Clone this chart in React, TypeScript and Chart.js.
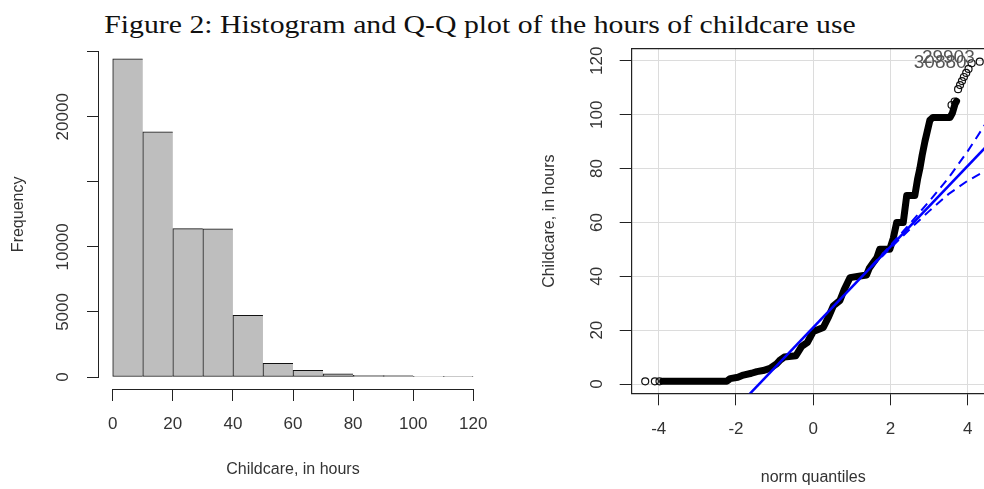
import React, { useEffect, useLayoutEffect, useRef, useState } from 'react';
import { Chart, registerables } from 'chart.js';
Chart.register(...registerables);

// ---------- Histogram data ----------
const HIST_BREAKS = [0, 10, 20, 30, 40, 50, 60, 70, 80, 90, 100, 110, 120];
const HIST_FREQ = [24460, 18850, 11400, 11380, 4740, 1050, 510, 250, 125, 110, 8, 3];
const HIST_X_TICKS = [0, 20, 40, 60, 80, 100, 120];
const HIST_Y_TICKS = [0, 5000, 10000, 15000, 20000, 25000];
const HIST_Y_LABELED = [0, 5000, 10000, 20000];

// ---------- Q-Q plot data ----------
const QQ_X_TICKS = [-4, -2, 0, 2, 4];
const QQ_Y_TICKS = [0, 20, 40, 60, 80, 100, 120];
// dense part of the sample quantiles (overlapping circles form a solid band)
const QQ_BAND_X = [-3.9, -2.24, -2.15, -1.95, -1.81, -1.6, -1.46, -1.3, -1.12, -0.95, -0.85, -0.75, -0.45, -0.3, -0.15, 0.0, 0.26, 0.4, 0.52, 0.69, 0.8, 0.95, 1.38, 1.45, 1.55, 1.65, 1.72, 1.98, 2.07, 2.16, 2.33, 2.42, 2.63, 2.7, 2.76, 2.82, 2.89, 3.02, 3.1, 3.54, 3.6, 3.67, 3.71];
const QQ_BAND_Y = [1, 1, 2, 2.5, 3.3, 4, 4.6, 5, 5.8, 7.5, 9, 10, 10.5, 14, 15.5, 19.5, 21, 25, 29, 31, 35, 39.5, 40.5, 43, 45, 47, 50, 50, 54, 60, 60, 70, 70, 76, 80, 85, 90, 98, 99, 99, 100.5, 104, 105];
// sparse individual observations at both tails (open circles)
const QQ_PT_X = [-4.35, -4.1, -3.98, 3.58, 3.66, 3.75, 3.8, 3.85, 3.9, 3.96, 4.02, 4.1, 4.31];
const QQ_PT_Y = [1, 1, 1, 103.6, 104.9, 109.5, 111, 112.5, 114, 115.5, 117, 119.1, 119.7];
// reference line and its dashed confidence envelope
const QQLINE_X = [-2, 5];
const QQLINE_Y = [-9, 96];
const ENV_X = [1.5, 2.0, 2.5, 3.0, 3.5, 4.0, 4.5, 5.0];
const ENV_UPPER = [43.7, 51.5, 59.5, 67.8, 76.5, 86.5, 97.5, 108];
const ENV_LOWER = [43.3, 50.5, 57.5, 64.2, 70.5, 75.5, 79.5, 84];
// identified observations
const ID_TEXT = ['30880', '29903'];
const ID_X = [4.1, 4.31];
const ID_Y = [119.2, 121.0];

const FONT = '"Liberation Sans", Arial, sans-serif';
const AXIS = '#222';
const TXT = '#333';

const zeroPad = (s: any) => {
  s.paddingTop = 0; s.paddingBottom = 0; s.paddingLeft = 0; s.paddingRight = 0;
};
const setTicks = (vals: number[]) => (s: any) => { s.ticks = vals.map((v) => ({ value: v })); };

export default function App() {
  const refA = useRef<HTMLCanvasElement>(null);
  const refB = useRef<HTMLCanvasElement>(null);
  const refC = useRef<HTMLCanvasElement>(null);
  const titleRef = useRef<HTMLSpanElement>(null);
  const [sx, setSx] = useState(1);

  useLayoutEffect(() => {
    if (titleRef.current) {
      const w = titleRef.current.offsetWidth;
      if (w > 0) setSx(752 / w);
    }
  }, []);

  useEffect(() => {
    Chart.defaults.font.family = FONT;
    const common = {
      responsive: false,
      animation: false as const,
      events: [] as any[],
      plugins: { legend: { display: false }, tooltip: { enabled: false } },
    };

    // Histogram bars + y axis
    const chartA = new Chart(refA.current!, {
      type: 'bar',
      data: {
        datasets: [
          {
            data: HIST_FREQ.map((f, i) => ({ x: (HIST_BREAKS[i] + HIST_BREAKS[i + 1]) / 2, y: f })),
            backgroundColor: '#bebebe',
            borderColor: '#111',
            borderWidth: (ctx: any) => ({ left: 1, top: 1, bottom: 1, right: ctx.dataIndex === HIST_FREQ.length - 1 ? 1 : 0 }),
            borderSkipped: false,
            barPercentage: 1,
            categoryPercentage: 1,
          } as any,
        ],
      },
      options: {
        ...common,
        layout: { padding: { left: 0, right: 510.7, top: 51.7, bottom: 112 } },
        scales: {
          x: { type: 'linear', display: false, offset: false, grid: { offset: false }, min: -4.9, max: 120, afterBuildTicks: setTicks(HIST_BREAKS) },
          y: {
            type: 'linear', position: 'left', min: 0, max: 25000,
            afterBuildTicks: setTicks(HIST_Y_TICKS),
            afterFit: (s: any) => { s.width = 98; zeroPad(s); },
            ticks: {
              callback: (v: any) => (HIST_Y_LABELED.includes(Number(v)) ? String(v) : ''),
              minRotation: 90, maxRotation: 90, crossAlign: 'center', padding: 0,
              font: { size: 17 }, color: TXT,
            },
            grid: { drawOnChartArea: false, tickLength: 11, tickColor: AXIS, tickWidth: 1 },
            border: { display: true, color: AXIS, width: 1 },
            title: { display: true, text: 'Frequency', font: { size: 16 }, color: TXT, padding: { top: 9.4, bottom: 0 } },
          },
        },
      } as any,
    });

    // Histogram x axis (offset below the bars)
    const chartB = new Chart(refB.current!, {
      type: 'scatter',
      data: { datasets: [] },
      options: {
        ...common,
        layout: { padding: { left: 112.7, right: 510.7, top: 300, bottom: 0 } },
        scales: {
          x: {
            type: 'linear', position: 'bottom', min: 0, max: 120,
            afterBuildTicks: setTicks(HIST_X_TICKS),
            afterFit: (s: any) => { s.height = 100; zeroPad(s); },
            ticks: { font: { size: 17 }, color: TXT, padding: 13, maxRotation: 0 },
            grid: { drawOnChartArea: false, tickLength: 12, tickColor: AXIS, tickWidth: 1 },
            border: { display: true, color: AXIS, width: 1 },
            title: { display: true, text: 'Childcare, in hours', font: { size: 16 }, color: TXT, padding: { top: 0, bottom: 9.4 } },
          },
          y: { type: 'linear', display: false, min: 0, max: 1 },
        },
      } as any,
    });

    const idLabelPlugin = {
      id: 'idLabels',
      afterDatasetsDraw(chart: any) {
        const { ctx, scales } = chart;
        ctx.save();
        ctx.font = `19px ${FONT}`;
        ctx.fillStyle = '#555';
        ctx.textAlign = 'right';
        ctx.textBaseline = 'middle';
        ID_TEXT.forEach((t, i) => {
          ctx.fillText(t, scales.x.getPixelForValue(ID_X[i]) - 5, scales.y.getPixelForValue(ID_Y[i]));
        });
        ctx.restore();
      },
    };

    // Q-Q plot
    const chartC = new Chart(refC.current!, {
      type: 'scatter',
      data: {
        datasets: [
          {
            data: QQLINE_X.map((x, i) => ({ x, y: QQLINE_Y[i] })),
            showLine: true, borderColor: '#0000ff', borderWidth: 2.5, pointRadius: 0, order: 0,
          },
          {
            data: ENV_X.map((x, i) => ({ x, y: ENV_UPPER[i] })),
            showLine: true, borderColor: '#0000ff', borderWidth: 2, borderDash: [9, 6], pointRadius: 0, order: 0,
          },
          {
            data: ENV_X.map((x, i) => ({ x, y: ENV_LOWER[i] })),
            showLine: true, borderColor: '#0000ff', borderWidth: 2, borderDash: [9, 6], pointRadius: 0, order: 0,
          },
          {
            data: QQ_BAND_X.map((x, i) => ({ x, y: QQ_BAND_Y[i] })),
            showLine: true, borderColor: '#000', borderWidth: 7, pointRadius: 0,
            borderJoinStyle: 'round', borderCapStyle: 'round', order: 1,
          },
          {
            data: QQ_PT_X.map((x, i) => ({ x, y: QQ_PT_Y[i] })),
            showLine: false, pointRadius: 3.5, pointBorderWidth: 1.2, pointBorderColor: '#111',
            pointBackgroundColor: 'rgba(255,255,255,0)', order: 1,
          },
        ] as any,
      },
      options: {
        ...common,
        layout: { padding: { left: 0, right: 5, top: 49, bottom: 0 } },
        scales: {
          x: {
            type: 'linear', position: 'bottom', min: -4.7, max: 4.7,
            afterBuildTicks: setTicks(QQ_X_TICKS),
            afterFit: (s: any) => { s.height = 95.7; zeroPad(s); },
            ticks: { font: { size: 17 }, color: TXT, padding: 14, maxRotation: 0 },
            grid: { drawOnChartArea: true, color: '#dcdcdc', lineWidth: 1, tickLength: 12, tickColor: AXIS, tickWidth: 1 },
            border: { display: true, color: AXIS, width: 1.2 },
            title: { display: true, text: 'norm quantiles', font: { size: 16 }, color: TXT, padding: { top: 0, bottom: 1.4 } },
          },
          x2: {
            type: 'linear', position: 'top', min: -4.7, max: 4.7,
            afterFit: (s: any) => { s.height = 0; zeroPad(s); },
            ticks: { display: false },
            grid: { display: false },
            border: { display: true, color: AXIS, width: 1.2 },
          },
          y: {
            type: 'linear', position: 'left', min: -3.45, max: 124.4,
            afterBuildTicks: setTicks(QQ_Y_TICKS),
            afterFit: (s: any) => { s.width = 631.7; zeroPad(s); },
            ticks: { minRotation: 90, maxRotation: 90, crossAlign: 'center', padding: 8.5, font: { size: 17 }, color: TXT },
            grid: { drawOnChartArea: true, color: '#dcdcdc', lineWidth: 1, tickLength: 12, tickColor: AXIS, tickWidth: 1 },
            border: { display: true, color: AXIS, width: 1.2 },
            title: { display: true, text: 'Childcare, in hours', font: { size: 16 }, color: TXT, padding: { top: 540.4, bottom: 0 } },
          },
        },
      } as any,
      plugins: [idLabelPlugin],
    });

    return () => {
      chartA.destroy();
      chartB.destroy();
      chartC.destroy();
    };
  }, []);

  const abs: React.CSSProperties = { position: 'absolute', left: 0, top: 0 };
  return (
    <div style={{ position: 'fixed', left: 0, top: 0, width: 984, height: 489, overflow: 'hidden', background: '#fff' }}>
      <div
        style={{
          position: 'absolute', left: 480, top: 12, whiteSpace: 'nowrap',
          transform: `translateX(-50%) scale(${sx}, 1.12)`, transformOrigin: '50% 0',
        }}
      >
        <span
          ref={titleRef}
          style={{ display: 'inline-block', fontFamily: '"Liberation Serif", "Times New Roman", serif', fontSize: 23, lineHeight: '24px', color: '#111' }}
        >
          Figure 2: Histogram and Q-Q plot of the hours of childcare use
        </span>
      </div>
      <canvas ref={refA} width={984} height={489} style={{ ...abs, width: 984, height: 489 }} />
      <canvas ref={refB} width={984} height={489} style={{ ...abs, width: 984, height: 489 }} />
      <canvas ref={refC} width={1000} height={489} style={{ ...abs, width: 1000, height: 489 }} />
    </div>
  );
}
